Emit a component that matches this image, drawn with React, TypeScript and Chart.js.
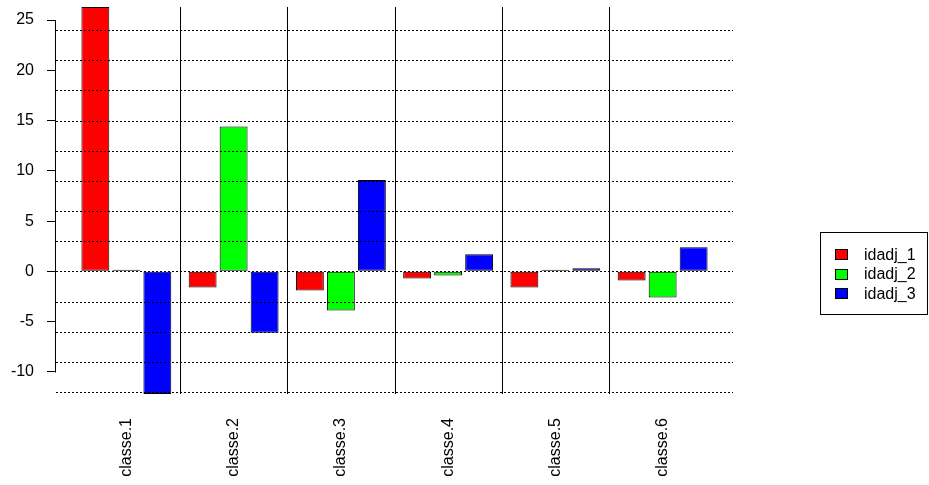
import React, { useEffect, useRef } from "react";
import { Chart, registerables } from "chart.js";

Chart.register(...registerables);

const categories = ["classe.1", "classe.2", "classe.3", "classe.4", "classe.5", "classe.6"];
const seriesNames = ["idadj_1", "idadj_2", "idadj_3"];
const idadj1 = [26.3, -1.6, -1.9, -0.7, -1.6, -0.9];
const idadj2 = [0.15, 14.4, -3.9, -0.4, 0.15, -2.6];
const idadj3 = [-12.2, -6.1, 9.1, 1.7, 0.3, 2.4];
const seriesColors = ["#ff0000", "#00ff00", "#0000ff"];
const yTickValues = [-10, -5, 0, 5, 10, 15, 20, 25];
const gridValues = [-12, -9, -6, -3, 0, 3, 6, 9, 12, 15, 18, 21, 24];

const FONT = "'Liberation Sans', Arial, sans-serif";

const decorPlugin = {
  id: "decor",
  afterDatasetsDraw(chart: any) {
    const ctx = chart.ctx;
    const area = chart.chartArea;
    const y = chart.scales.y;
    const x = chart.scales.x;
    ctx.save();
    ctx.strokeStyle = "#000";
    ctx.lineWidth = 1;
    ctx.setLineDash([2, 2]);
    gridValues.forEach((v) => {
      const py = Math.round(y.getPixelForValue(v)) + 0.5;
      ctx.beginPath();
      ctx.moveTo(area.left, py);
      ctx.lineTo(area.right, py);
      ctx.stroke();
    });
    ctx.setLineDash([]);
    for (let i = 1; i < categories.length; i++) {
      const px = Math.round(x.getPixelForValue(i + 0.5)) + 0.5;
      ctx.beginPath();
      ctx.moveTo(px, area.top);
      ctx.lineTo(px, area.bottom);
      ctx.stroke();
    }
    const ax = area.left - 0.5;
    ctx.beginPath();
    ctx.moveTo(ax, Math.round(y.getPixelForValue(yTickValues[yTickValues.length - 1])) + 0.5);
    ctx.lineTo(ax, Math.round(y.getPixelForValue(yTickValues[0])) + 0.5);
    ctx.stroke();
    ctx.restore();
  },
  afterDraw(chart: any) {
    const ctx = chart.ctx;
    ctx.save();
    const bx = 820.5, by = 232.5, bw = 107, bh = 82;
    ctx.strokeStyle = "#000";
    ctx.lineWidth = 1;
    ctx.strokeRect(bx, by, bw, bh);
    const rows = [254.5, 274, 293.5];
    ctx.font = `16px ${FONT}`;
    ctx.textBaseline = "middle";
    ctx.textAlign = "left";
    seriesNames.forEach((name, i) => {
      const cy = rows[i];
      ctx.fillStyle = seriesColors[i];
      ctx.fillRect(835, Math.round(cy - 5.5), 13, 11);
      ctx.strokeStyle = "#000";
      ctx.strokeRect(835.5, Math.round(cy - 5.5) + 0.5, 12, 10);
      ctx.fillStyle = "#000";
      ctx.fillText(name, 864, cy + 1);
    });
    ctx.restore();
  },
};

export default function App() {
  const canvasRef = useRef<HTMLCanvasElement | null>(null);

  useEffect(() => {
    if (!canvasRef.current) return;
    const toPoints = (arr: number[]) => arr.map((v, i) => ({ x: i + 1, y: v }));
    const seriesValues = [idadj1, idadj2, idadj3];
    const chart = new Chart(canvasRef.current, {
      type: "bar",
      data: {
        datasets: seriesNames.map((name, i) => ({
          label: name,
          data: toPoints(seriesValues[i]),
          backgroundColor: seriesColors[i],
          borderColor: "#000",
          borderWidth: 1,
          borderSkipped: false,
          categoryPercentage: 0.867,
          barPercentage: 0.9,
        })),
      },
      options: {
        animation: false,
        responsive: false,
        maintainAspectRatio: false,
        layout: { padding: { left: 0, top: 7, right: 196, bottom: 0 } },
        plugins: {
          legend: { display: false },
          tooltip: { enabled: false },
        },
        scales: {
          x: {
            type: "linear",
            offset: false,
            min: 0.344,
            max: 6.656,
            afterBuildTicks: (scale: any) => {
              scale.ticks = categories.map((_, i) => ({ value: i + 1 }));
            },
            afterFit: (scale: any) => {
              scale.height = 91;
              scale.paddingLeft = 0;
              scale.paddingRight = 0;
              scale.paddingTop = 0;
              scale.paddingBottom = 0;
            },
            grid: { display: false, drawTicks: false, tickLength: 0, offset: false },
            border: { display: false },
            ticks: {
              autoSkip: false,
              minRotation: 90,
              maxRotation: 90,
              padding: 24,
              color: "#000",
              font: { family: FONT, size: 16 },
              callback: (v: any) => categories[Math.round(Number(v)) - 1] ?? "",
            },
          },
          y: {
            min: -12.2,
            max: 26.3,
            afterBuildTicks: (scale: any) => {
              scale.ticks = yTickValues.map((v) => ({ value: v }));
            },
            afterFit: (scale: any) => {
              scale.width = 56;
              scale.paddingTop = 0;
              scale.paddingBottom = 0;
              scale.paddingLeft = 0;
              scale.paddingRight = 0;
            },
            grid: {
              drawOnChartArea: false,
              drawTicks: true,
              tickLength: 9,
              color: "#000",
              lineWidth: 1,
            },
            border: { display: false },
            ticks: {
              padding: 13,
              color: "#000",
              font: { family: FONT, size: 16 },
              callback: (v: any) => String(v),
            },
          },
        },
      },
      plugins: [decorPlugin],
    } as any);
    return () => chart.destroy();
  }, []);

  return (
    <div style={{ position: "fixed", left: 0, top: 0, width: 929, height: 485, background: "#fff" }}>
      <canvas ref={canvasRef} width={929} height={485} style={{ width: 929, height: 485 }} />
    </div>
  );
}
